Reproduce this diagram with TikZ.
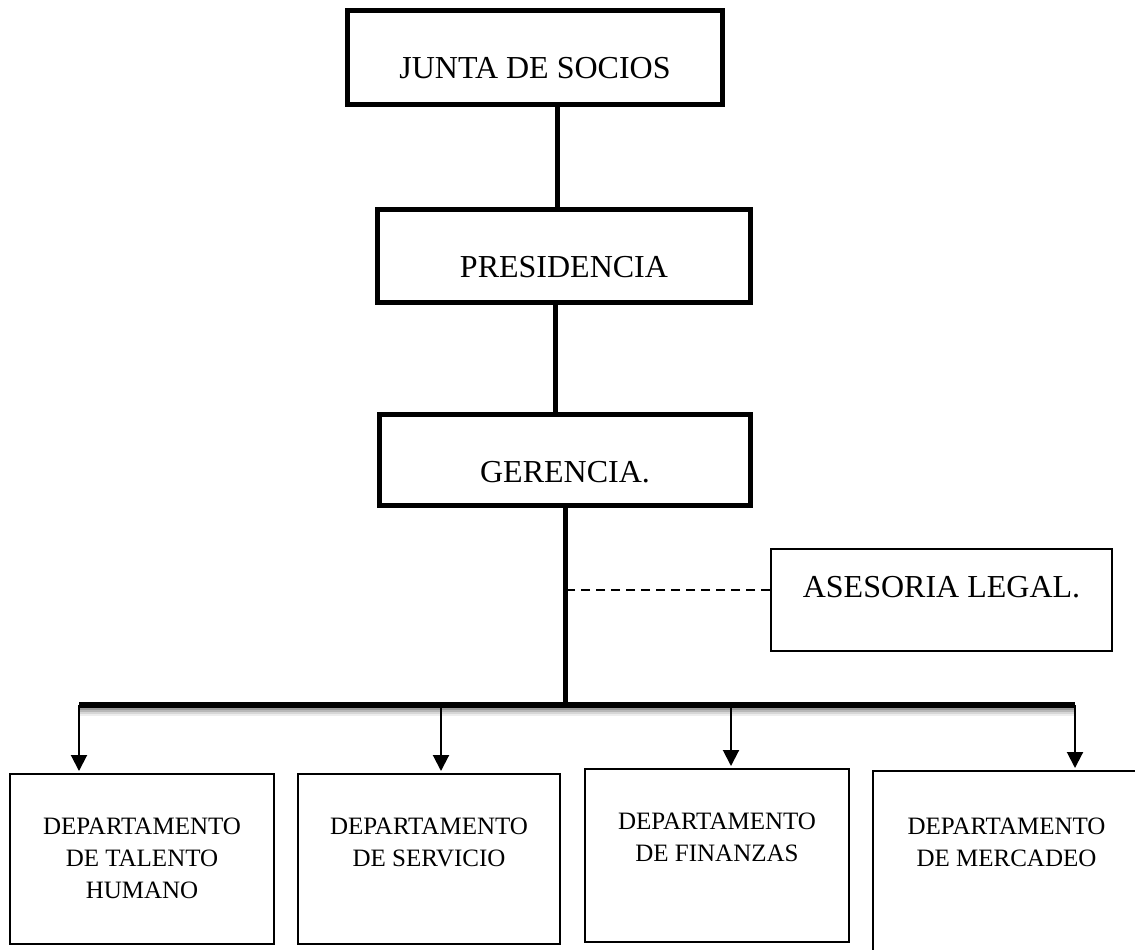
\documentclass[tikz,border=0pt]{standalone}
\usepackage{fontspec}
\setmainfont{Liberation Serif}
\usetikzlibrary{arrows.meta, positioning}

\begin{document}
\begin{tikzpicture}[x=0.5pt, y=-0.5pt, >={Triangle[width=8pt,length=8pt]},
    cajagruesa/.style={draw, line width=2.5pt, inner sep=0pt},
    cajafina/.style={draw, line width=1pt, inner sep=0pt},
    conector/.style={line width=2.5pt},
    flecha/.style={->, line width=1pt, shorten >=1pt},
    titulo/.style={font=\fontsize{16}{19}\selectfont, anchor=base, inner sep=0pt},
    depto/.style={font=\fontsize{12.5}{16}\selectfont, align=center, anchor=north, inner sep=0pt}]

    % Marco de la figura
    \clip (0,0) rectangle (1135,949);

    % Cajas de la direccion
    \node[cajagruesa, minimum width=187.5pt, minimum height=47pt] (junta) at (535,57.5) {};
    \node[titulo] (juntatxt) at ([yshift=-10.5pt]junta.center) {JUNTA DE SOCIOS};
    \node[cajagruesa, minimum width=186.5pt, minimum height=46.5pt] (presidencia) at (564,256) {};
    \node[titulo] (presidenciatxt) at ([yshift=-10.5pt]presidencia.center) {PRESIDENCIA};
    \node[cajagruesa, minimum width=185.5pt, minimum height=45.5pt] (gerencia) at (565,460) {};
    \node[titulo] (gerenciatxt) at ([yshift=-11pt]gerencia.center) {GERENCIA.};

    % Asesoria (staff)
    \node[cajafina, minimum width=170.5pt, minimum height=51pt] (asesoria) at (941.5,600) {};
    \node[titulo] (asesoriatxt) at ([yshift=-24.5pt]asesoria.north) {ASESORIA LEGAL.};

    % Departamentos
    \node[cajafina, minimum width=132pt, minimum height=85pt] (talento) at (142,859) {};
    \node[cajafina, minimum width=131pt, minimum height=85pt] (servicio) at (429,859) {};
    \node[cajafina, minimum width=132pt, minimum height=86.5pt] (finanzas) at (717,855.5) {};
    \node[cajafina, minimum width=133.5pt, minimum height=94.5pt] (mercadeo) at (1006.5,865.5) {};
    \node[depto] (talentotxt) at ([yshift=-22.5pt]talento.north) {DEPARTAMENTO\\DE TALENTO\\HUMANO};
    \node[depto] (serviciotxt) at ([yshift=-22.5pt]servicio.north) {DEPARTAMENTO\\DE SERVICIO};
    \node[depto] (finanzastxt) at ([yshift=-22.5pt]finanzas.north) {DEPARTAMENTO\\DE FINANZAS};
    \node[depto] (mercadeotxt) at ([yshift=-24pt]mercadeo.north) {DEPARTAMENTO\\DE MERCADEO};

    % Barra de distribucion
    \coordinate (barraizq) at (79,705);
    \coordinate (barrader) at (1075,705);

    % Lineas de mando
    \draw[conector] ([xshift=11pt]junta.south) -- ([xshift=11pt]junta.south |- presidencia.north);
    \draw[conector] ([xshift=-4.5pt]presidencia.south) -- ([xshift=-4.5pt]presidencia.south |- gerencia.north);
    \draw[conector] (gerencia.south) -- (gerencia.south |- barraizq);

    % Linea punteada hacia la asesoria
    \draw[line width=0.75pt, dash pattern=on 4.5pt off 3pt] ([yshift=5pt]asesoria.west) -- ([yshift=5pt]asesoria.west -| gerencia.south);

    % Sombra de la barra
    \foreach \d/\c in {2/40, 3/28, 4/16, 5/7}
        \draw[line width=1pt, black!\c] ([yshift=-\d pt]barraizq) -- ([yshift=-\d pt]barrader);

    % Flechas a los departamentos
    \draw[flecha] (barraizq) -- (barraizq |- talento.north);
    \draw[flecha] ([xshift=6pt]servicio.north |- barraizq) -- ([xshift=6pt]servicio.north);
    \draw[flecha] ([xshift=7pt]finanzas.north |- barraizq) -- ([xshift=7pt]finanzas.north);
    \draw[flecha] (barrader) -- (barrader |- mercadeo.north);

    % Barra
    \draw[line width=3pt] (barraizq) -- (barrader);

\end{tikzpicture}
\end{document}
